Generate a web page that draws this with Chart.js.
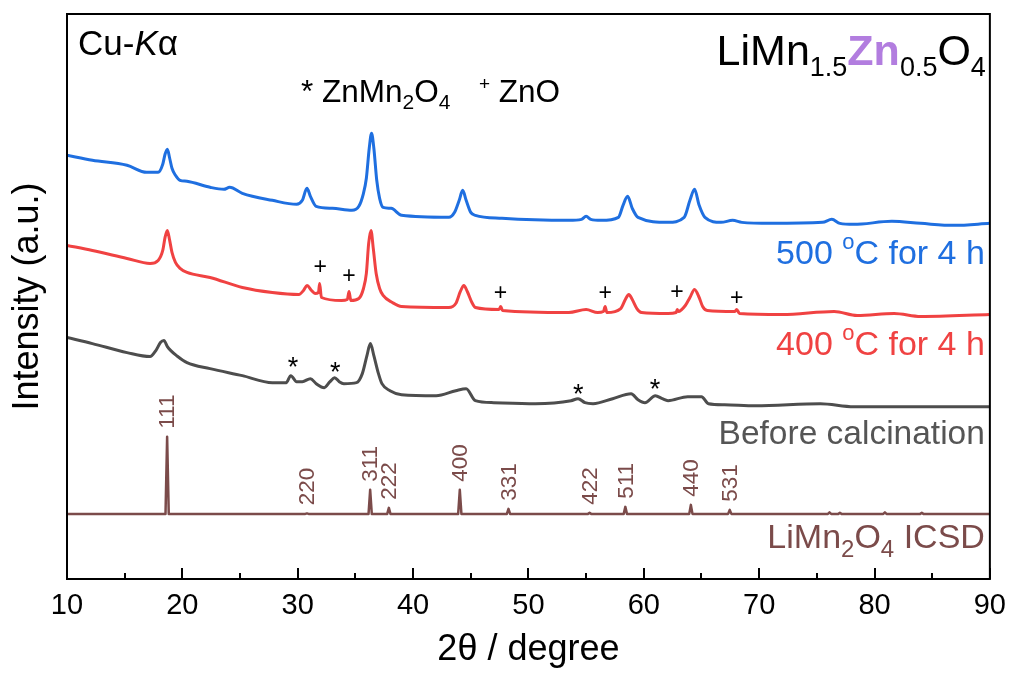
<!DOCTYPE html>
<html><head><meta charset="utf-8">
<script src="https://cdn.jsdelivr.net/npm/chart.js@4.4.0/dist/chart.umd.min.js"></script>
<style>html,body{margin:0;padding:0;background:#fff;}#wrap{width:1016px;height:673px;}</style>
</head><body><div id="wrap"><canvas id="c" width="1016" height="673"></canvas></div>
<script>
const FONT = "'Liberation Sans', Arial, Helvetica, sans-serif";
const BLUE = '#1f6fe0', RED = '#f04242', GRAY = '#4d4d4d', BROWN = '#7b4b4a', PURPLE = '#b27ddf';

// 500 °C for 4 h
const blueTheta = [10.0,12.2,15.2,16.9,17.9,18.3,18.5,18.7,18.9,19.1,19.4,19.8,20.4,22.4,23.6,24.1,25.2,27.8,29.9,30.4,30.8,31.1,31.6,33.0,34.7,35.3,35.7,35.95,36.2,36.4,36.6,36.85,37.1,37.4,38.1,39.0,43.1,43.6,44.0,44.3,44.6,45.0,45.4,47.7,53.5,54.6,55.0,55.4,56.3,57.8,58.2,58.6,59.0,59.5,62.1,63.5,64.0,64.4,64.8,65.3,66.7,67.7,68.5,71.0,75.5,76.3,77.0,78.2,81.5,84.0,86.9,90.0];
const blueIntensity = [423,418,413,406,406,414,424,429,420,410,403,398,397,391,389,391,385,378,374,378,390,382,372,370,368,372,385,400,430,445,430,398,380,371,370,363,361,366,378,388,378,366,363,360,358,359,362,359,358,361,373,382,370,361,356,361,378,389,373,361,356,358,356,355,356,359,355,354,357,355,353,355];

// 400 °C for 4 h
const redTheta = [10.0,12.2,15.2,17.2,17.9,18.3,18.5,18.7,18.9,19.1,19.4,19.8,20.4,22.4,25.2,27.8,30.1,30.5,30.8,31.2,31.5,31.8,31.9,32.05,33.8,34.3,34.45,34.6,35.3,35.7,35.95,36.15,36.35,36.55,36.8,37.1,37.4,38.2,39.0,43.1,43.7,44.1,44.4,44.7,45.1,45.4,47.45,47.6,47.75,53.5,55.0,56.0,56.5,56.65,56.8,58.0,58.4,58.7,59.0,59.4,59.8,62.1,62.8,62.9,63.0,63.6,64.0,64.4,64.8,65.1,65.5,67.9,68.05,68.3,72.0,76.5,78.5,81.7,84.0,90.0];
const redIntensity = [333,328,320,315,318,328,341,348,338,326,316,310,306,301,291,286,284,288,293,288,285,286,295,281,278,279,287,278,280,290,305,335,348,330,305,290,283,276,272,271,275,287,293,287,276,271,269,272,268,266,269,266,267,272,266,270,279,284,279,270,266,265,266,269,267,273,281,289,281,272,268,267,269,265,264,267,263,265,262,264];

// Before calcination
const grayTheta = [10.0,12.2,15.2,17.2,17.7,18.1,18.4,18.7,19.0,19.5,20.4,22.4,25.2,27.8,29.0,29.4,29.9,30.4,31.1,31.6,32.3,32.8,33.2,33.6,34.0,35.1,35.6,36.0,36.3,36.6,37.0,37.3,38.0,39.0,42.0,43.7,44.6,45.4,47.0,50.6,53.7,54.3,54.9,55.6,57.3,58.9,59.5,60.1,61.0,61.6,62.1,63.8,65.0,65.6,67.0,69.7,75.3,78.2,90.0];
const grayIntensity = [241,235,226,222,228,236,238,232,228,223,216,210,203,196,196,203,197,197,200,195,191,197,201,197,195,196,205,223,235,223,205,195,188,184,183,188,190,178,176,175,178,180,176,175,180,185,179,176,183,180,178,182,182,175,174,173,175,172,172];

// LiMn2O4 ICSD reference pattern
const icsdBase = 65;
const icsdTheta = [18.68,30.8,36.28,37.9,44.05,48.27,55.3,58.4,64.08,67.45,76.1,77.0,80.9,84.1];
const icsdIntensity = [77,0.5,24,6,24,5,1,7,9,4,1.5,1,1.5,1];
const icsdHkl = ['111','220','311','222','400','331','422','511','440','531','','','',''];

// phase markers (2θ, height)
const plusTheta = [31.94,34.45,47.58,56.65,62.87,68.06];
const plusY = [312,303,286,286,287,282];
const starTheta = [29.6,33.25,54.32,60.97];
const starY = [218,213,191,196];

const xTicks = [10,20,30,40,50,60,70,80,90];

function pts(xs, ys){ return xs.map((x,i)=>({x:x, y:ys[i]})); }
function stickPts(){
  const out=[{x:10,y:icsdBase}];
  icsdTheta.forEach((t,i)=>{
    out.push({x:t-0.14,y:icsdBase},{x:t,y:icsdBase+icsdIntensity[i]},{x:t+0.14,y:icsdBase});
  });
  out.push({x:90,y:icsdBase});
  return out;
}

function fontStr(s){ return (s.i?'italic ':'')+(s.b?'bold ':'')+s.s+'px '+FONT; }
function rich(ctx, segs, x, y, align){
  let w=0;
  segs.forEach(s=>{ctx.font=fontStr(s); s.w=ctx.measureText(s.t).width; w+=s.w;});
  let cx = align==='right'? x-w : x;
  ctx.textAlign='left'; ctx.textBaseline='alphabetic';
  segs.forEach(s=>{ctx.font=fontStr(s); ctx.fillStyle=s.c; ctx.fillText(s.t,cx,y+(s.dy||0)); cx+=s.w;});
}

const decor = {
  id:'decor',
  afterDraw(chart){
    const ctx=chart.ctx, a=chart.chartArea, xs=chart.scales.x, ys=chart.scales.y;
    ctx.save();
    ctx.strokeStyle='#000'; ctx.lineWidth=2;
    ctx.strokeRect(a.left,a.top,a.right-a.left,a.bottom-a.top);
    for(let v=10; v<=90; v+=5){
      const px=Math.round(xs.getPixelForValue(v));
      const len = v%10===0 ? 11 : 6;
      ctx.beginPath(); ctx.moveTo(px,a.bottom); ctx.lineTo(px,a.bottom-len); ctx.stroke();
    }
    ctx.fillStyle=BROWN; ctx.font='22.5px '+FONT; ctx.textAlign='left'; ctx.textBaseline='middle';
    icsdTheta.forEach((t,i)=>{
      if(!icsdHkl[i]) return;
      const px=xs.getPixelForValue(t), py=ys.getPixelForValue(icsdBase+icsdIntensity[i]+8);
      ctx.save(); ctx.translate(px,py); ctx.rotate(-Math.PI/2); ctx.fillText(icsdHkl[i],0,1); ctx.restore();
    });
    ctx.fillStyle='#000'; ctx.textAlign='center'; ctx.textBaseline='alphabetic';
    ctx.font='23px '+FONT;
    plusTheta.forEach((t,i)=>{ ctx.fillText('+', xs.getPixelForValue(t), ys.getPixelForValue(plusY[i])+8); });
    ctx.font='27px '+FONT;
    starTheta.forEach((t,i)=>{ ctx.fillText('*', xs.getPixelForValue(t), ys.getPixelForValue(starY[i])+15.5); });
    const R=a.right-5;
    rich(ctx,[{t:'Cu-',s:35,c:'#000'},{t:'K',s:35,i:1,c:'#000'},{t:'\u03B1',s:35,c:'#000'}], a.left+11, a.top+41);
    rich(ctx,[{t:'LiMn',s:43,c:'#000'},{t:'1.5',s:27,dy:11,c:'#000'},{t:'Zn',s:43,b:1,c:PURPLE},{t:'0.5',s:27,dy:11,c:'#000'},{t:'O',s:43,c:'#000'},{t:'4',s:27,dy:11,c:'#000'}], a.right-4, a.top+51, 'right');
    rich(ctx,[{t:'* ZnMn',s:31.5,c:'#000'},{t:'2',s:21,dy:7,c:'#000'},{t:'O',s:31.5,c:'#000'},{t:'4',s:21,dy:7,c:'#000'}], 301, a.top+88);
    rich(ctx,[{t:'+',s:19,dy:-12,c:'#000'},{t:' ZnO',s:31.5,c:'#000'}], 479, a.top+88);
    rich(ctx,[{t:'500 ',s:34,c:BLUE},{t:'o',s:22,dy:-15,c:BLUE},{t:'C for 4 h',s:34,c:BLUE}], R, a.top+250, 'right');
    rich(ctx,[{t:'400 ',s:34,c:RED},{t:'o',s:22,dy:-15,c:RED},{t:'C for 4 h',s:34,c:RED}], R, a.top+341, 'right');
    rich(ctx,[{t:'Before calcination',s:33.5,c:'#555555'}], R, a.top+430, 'right');
    rich(ctx,[{t:'LiMn',s:34,c:BROWN},{t:'2',s:24,dy:9,c:BROWN},{t:'O',s:34,c:BROWN},{t:'4',s:24,dy:9,c:BROWN},{t:' ICSD',s:34,c:BROWN}], R, a.top+534, 'right');
    ctx.restore();
  }
};

const lineDs = (label,data,color,w,smooth)=>({label, data, borderColor:color, backgroundColor:color, borderWidth:w, pointRadius:0, cubicInterpolationMode: smooth?'monotone':'default', tension: 0, fill:false, borderJoinStyle:'round'});

new Chart(document.getElementById('c').getContext('2d'), {
  type:'line',
  data:{datasets:[
    lineDs('500 °C for 4 h', pts(blueTheta,blueIntensity), BLUE, 3, true),
    lineDs('400 °C for 4 h', pts(redTheta,redIntensity), RED, 3, true),
    lineDs('Before calcination', pts(grayTheta,grayIntensity), GRAY, 3, true),
    lineDs('LiMn2O4 ICSD', stickPts(), BROWN, 2.5, false)
  ]},
  options:{
    responsive:false, animation:false, devicePixelRatio:1,
    layout:{padding:{left:0,right:23,top:14,bottom:0}},
    plugins:{legend:{display:false}, tooltip:{enabled:false}},
    scales:{
      x:{type:'linear', min:10, max:90,
        afterBuildTicks:(s)=>{ s.ticks = xTicks.map(v=>({value:v})); },
        ticks:{font:{size:29,family:FONT}, color:'#000', padding:10, maxRotation:0, autoSkip:false},
        grid:{display:false, drawTicks:false}, border:{display:false},
        title:{display:true, text:'2\u03B8 / degree', font:{size:36,family:FONT}, color:'#000', padding:{top:-5.5,bottom:1.5}}},
      y:{type:'linear', min:0, max:564,
        ticks:{display:false}, grid:{display:false, drawTicks:false}, border:{display:false},
        title:{display:true, text:'Intensity (a.u.)', font:{size:36,family:FONT}, color:'#000', padding:{top:6.4,bottom:17.4}}}
    }
  },
  plugins:[decor]
});
</script></body></html>
